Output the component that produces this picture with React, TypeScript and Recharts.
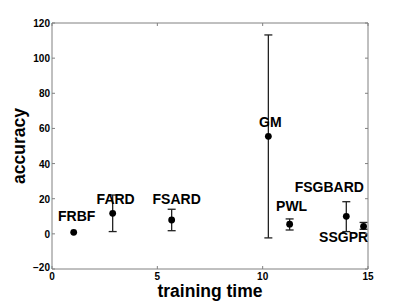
import React from 'react';
import { ScatterChart, Scatter, XAxis, YAxis, ErrorBar, Label } from 'recharts';

const methods = ['FRBF', 'FARD', 'FSARD', 'GM', 'PWL', 'FSGBARD', 'SSGPR'];
const trainingTime = [1.03, 2.88, 5.68, 10.27, 11.28, 13.97, 14.79];
const accuracy = [0.9, 11.7, 7.9, 55.5, 5.5, 10.0, 4.3];
const accuracyLow: (number | null)[] = [null, 1.3, 1.8, -2.3, 2.2, 1.3, 2.6];
const accuracyHigh: (number | null)[] = [null, 22.1, 14.0, 113.2, 8.5, 18.3, 6.5];
const xTicks = [0, 5, 10, 15];
const yTicks = [-20, 0, 20, 40, 60, 80, 100, 120];

// label placement relative to the marker (layout only)
const labelOffset: Record<string, [number, number]> = {
  FRBF: [3, -11],
  FARD: [3, -9],
  FSARD: [5, -16],
  GM: [2, -9],
  PWL: [2, -13],
  FSGBARD: [-17, -24],
  SSGPR: [-20, 16],
};

const data = methods.map((m, i) => ({
  name: m,
  t: trainingTime[i],
  acc: accuracy[i],
  err:
    accuracyLow[i] == null || accuracyHigh[i] == null
      ? null
      : [accuracy[i] - (accuracyLow[i] as number), (accuracyHigh[i] as number) - accuracy[i]],
}));

const FRAME = '#808080';
const FONT = '"Liberation Sans", Arial, Helvetica, sans-serif';
const TICK_LEN = 3;

const BottomTick = (props: any) => {
  const { x, y, payload } = props;
  return (
    <g>
      <line x1={x} y1={y} x2={x} y2={y - TICK_LEN} stroke={FRAME} />
      <text x={x} y={y + 11} textAnchor="middle" fontSize={10} fontWeight="bold" fontFamily={FONT} fill="#000">
        {payload.value}
      </text>
    </g>
  );
};

const TopTick = (props: any) => {
  const { x, y } = props;
  return <line x1={x} y1={y} x2={x} y2={y + TICK_LEN} stroke={FRAME} />;
};

const LeftTick = (props: any) => {
  const { x, y, payload } = props;
  const v = payload.value;
  return (
    <g>
      <line x1={x} y1={y} x2={x + TICK_LEN} y2={y} stroke={FRAME} />
      <text
        x={x - 2}
        y={y + 4 - (v === -20 ? 2 : 0)}
        textAnchor="end"
        fontSize={10}
        fontWeight="bold"
        fontFamily={FONT}
        fill="#000"
      >
        {v < 0 ? '\u2212' + Math.abs(v) : v}
      </text>
    </g>
  );
};

const RightTick = (props: any) => {
  const { x, y } = props;
  return <line x1={x} y1={y} x2={x - TICK_LEN} y2={y} stroke={FRAME} />;
};

const PointShape = (props: any) => {
  const { cx, cy, payload } = props;
  const off = labelOffset[payload.name] || [0, -10];
  return (
    <g>
      <circle cx={cx} cy={cy} r={3.4} fill="#000" />
      <text
        x={cx + off[0]}
        y={cy + off[1]}
        textAnchor="middle"
        fontSize={14}
        fontWeight="bold"
        fontFamily={FONT}
        fill="#000"
      >
        {payload.name}
      </text>
    </g>
  );
};

export default function App() {
  return (
    <div style={{ position: 'absolute', left: 0, top: 0, background: '#fff' }}>
      <ScatterChart width={407} height={303} margin={{ top: 0, right: 0, bottom: 0, left: 0 }}>
        <XAxis
          xAxisId="b"
          type="number"
          dataKey="t"
          domain={[0, 15]}
          ticks={xTicks}
          orientation="bottom"
          height={34}
          tickSize={0}
          tickMargin={0}
          tickLine={false}
          axisLine={{ stroke: FRAME }}
          tick={<BottomTick />}
          allowDataOverflow
        >
          <Label
            content={(p: any) => {
              const vb = p.viewBox;
              return (
                <text
                  x={vb.x + vb.width / 2}
                  y={vb.y + 28}
                  textAnchor="middle"
                  fontSize={17.5}
                  fontWeight="bold"
                  fontFamily={FONT}
                  fill="#000"
                >
                  training time
                </text>
              );
            }}
          />
        </XAxis>
        <XAxis
          xAxisId="t"
          type="number"
          dataKey="t"
          domain={[0, 15]}
          ticks={xTicks}
          orientation="top"
          height={23}
          tickSize={0}
          tickMargin={0}
          tickLine={false}
          axisLine={{ stroke: FRAME }}
          tick={<TopTick />}
          allowDataOverflow
        />
        <YAxis
          yAxisId="l"
          type="number"
          dataKey="acc"
          domain={[-20, 120]}
          ticks={yTicks}
          orientation="left"
          width={52}
          tickSize={0}
          tickMargin={0}
          tickLine={false}
          axisLine={{ stroke: FRAME }}
          tick={<LeftTick />}
          allowDataOverflow
        >
          <Label
            content={(p: any) => {
              const vb = p.viewBox;
              const cx = 25;
              const cy = vb.y + vb.height / 2;
              return (
                <text
                  x={cx}
                  y={cy}
                  transform={`rotate(-90 ${cx} ${cy})`}
                  textAnchor="middle"
                  fontSize={17.5}
                  fontWeight="bold"
                  fontFamily={FONT}
                  fill="#000"
                >
                  accuracy
                </text>
              );
            }}
          />
        </YAxis>
        <YAxis
          yAxisId="r"
          type="number"
          dataKey="acc"
          domain={[-20, 120]}
          ticks={yTicks}
          orientation="right"
          width={39}
          tickSize={0}
          tickMargin={0}
          tickLine={false}
          axisLine={{ stroke: FRAME }}
          tick={<RightTick />}
          allowDataOverflow
        />
        <Scatter
          data={data}
          xAxisId="b"
          yAxisId="l"
          dataKey="acc"
          shape={<PointShape />}
          isAnimationActive={false}
        >
          <ErrorBar dataKey="err" direction="y" width={4} stroke="#222" strokeWidth={1.3} isAnimationActive={false} />
        </Scatter>
      </ScatterChart>
    </div>
  );
}
